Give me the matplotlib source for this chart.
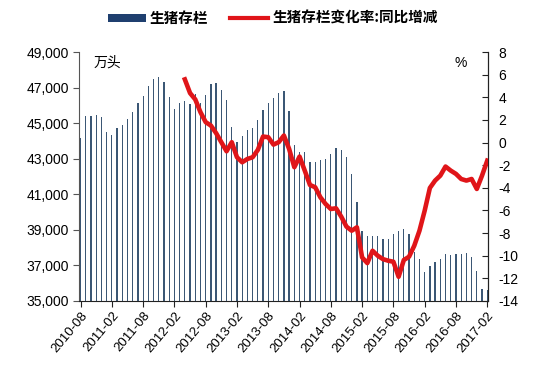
import matplotlib
matplotlib.use("Agg")
import matplotlib.pyplot as plt
import numpy as np
from matplotlib.patches import Patch
from matplotlib.lines import Line2D

plt.rcParams['font.family'] = ['Liberation Sans', 'Noto Sans CJK SC', 'DejaVu Sans']

# Monthly categories 2010-08 .. 2017-02
months = [f"{y}-{m:02d}" for y in range(2010, 2018) for m in range(1, 13)]
months = months[months.index("2010-08"):months.index("2017-02") + 1]

# 生猪存栏 (万头)
hog_inventory = [
    44140, 45410, 45410, 45470, 45350, 44480, 44360, 44740, 44910, 45240,
    45640, 46120, 46510, 47110, 47500, 47600, 47320, 46460, 45790, 46120,
    46270, 46070, 46660, 46160, 46610, 47220, 47260, 46870, 46290, 44790,
    43920, 44290, 44630, 44740, 45190, 45730, 46120, 46440, 46700, 46790,
    45690, 43750, 43370, 43390, 42830, 42790, 42910, 43000, 43260, 43600,
    43490, 43110, 42120, 40550, 38940, 38680, 38680, 38630, 38460, 38510,
    38740, 38960, 39060, 38790, 37750, 37340, 36640, 36960, 37190, 37340,
    37620, 37580, 37670, 37670, 37690, 37450, 36700, 35670, 35600,
]

# 生猪存栏变化率:同比增减 (%), starting 2012-04
yoy_start = "2012-04"
yoy_change = [
    5.58, 4.37, 3.81, 2.68, 1.80, 1.50, 0.83, 0.03, -0.77, 0.03,
    -1.30, -1.74, -1.45, -1.30, -0.65, 0.53, 0.47, -0.18, 0.03, 0.62,
    -0.56, -2.18, -1.24, -2.48, -3.75, -3.95, -4.84, -5.43, -5.87, -5.81,
    -6.55, -7.43, -7.79, -7.49, -10.15, -10.65, -9.56, -10.00, -10.30, -10.44,
    -10.53, -11.86, -10.38, -10.09, -9.12, -7.79, -6.02, -4.01, -3.36, -2.92,
    -2.12, -2.48, -2.77, -3.22, -3.36, -3.22, -4.10, -2.92, -1.60,
]

tick_labels = months[::6]

fig = plt.figure(figsize=(5.35, 3.71), dpi=100)
ax = fig.add_axes([79/535, 1 - 301/371, (487.5 - 79)/535, (301 - 52)/371])
ax2 = ax.twinx()

x = np.arange(len(months))
ax.bar(x, hog_inventory, width=0.24, color='#3b5775', zorder=2)
ax.set_ylim(35000, 49000)
ax.set_yticks(np.arange(35000, 49001, 2000))
ax.set_yticklabels([f"{v:,}" for v in range(35000, 49001, 2000)], fontsize=10)
ax.set_xlim(-0.3, len(months) - 0.95)
ax.set_xticks(x[::6])
ax.set_xticklabels(tick_labels, rotation=50, ha='right', rotation_mode='anchor', fontsize=9.5)

xs = np.arange(months.index(yoy_start), months.index(yoy_start) + len(yoy_change))
ax2.plot(xs, yoy_change, color='#E01519', lw=3.3, solid_joinstyle='round', zorder=3)
ax2.set_ylim(-14, 8)
ax2.set_yticks(np.arange(-14, 9, 2))
ax2.set_yticklabels([str(v) for v in range(-14, 9, 2)], fontsize=10)

for a in (ax, ax2):
    a.spines['top'].set_visible(False)
ax.spines['left'].set_color('#555555')
ax.spines['bottom'].set_color('#222222')
ax2.spines['right'].set_color('#222222')
ax2.spines['left'].set_visible(False)
ax2.spines['bottom'].set_visible(False)
ax.tick_params(axis='y', direction='out', length=4, color='#555555', pad=3)
ax.tick_params(axis='x', direction='out', length=4, color='#222222', pad=2)
ax2.tick_params(axis='y', direction='in', length=4, color='#222222', pad=8)

ax.text(0.035, 0.985, '万头', transform=ax.transAxes, fontsize=10,
        family=['Noto Sans CJK SC'], va='top', ha='left')
ax2.text(0.935, 0.985, '%', transform=ax.transAxes, fontsize=10, va='top', ha='center')

handles = [Patch(facecolor='#1f3f6f', edgecolor='none'),
           Line2D([0], [0], color='#E01519', lw=3)]
fig.legend(handles, ['生猪存栏', '生猪存栏变化率:同比增减'], loc='center',
           bbox_to_anchor=(0.51, 1 - 18/371), ncol=2, frameon=False,
           prop={'family': ['Noto Sans CJK SC'], 'weight': 'bold', 'size': 10.5},
           handlelength=2.6, handleheight=0.5, columnspacing=1.5, handletextpad=0.3)

fig.savefig('out.png', dpi=100)
